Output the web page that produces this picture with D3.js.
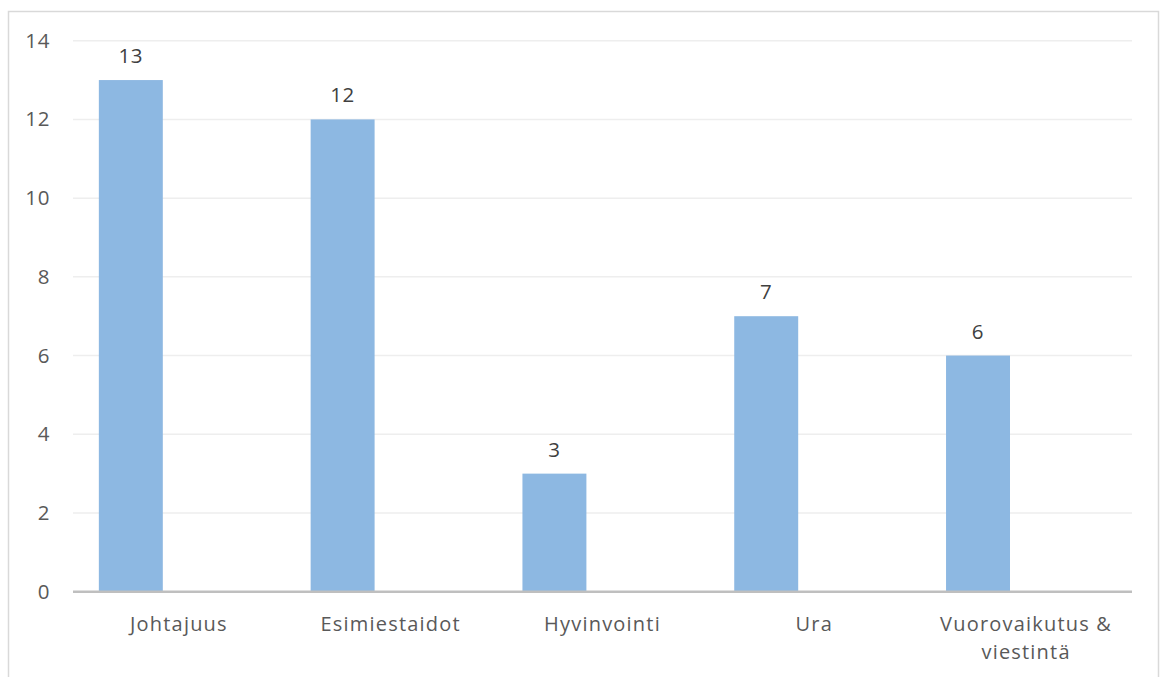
<!DOCTYPE html>
<html>
<head>
<meta charset="utf-8">
<script src="https://cdn.jsdelivr.net/npm/d3@7"></script>
<style>
  html, body { margin: 0; padding: 0; background: #fff; }
  svg { display: block; font-family: "Open Sans", "Noto Sans", sans-serif; }
</style>
</head>
<body>
<svg id="chart" width="1160" height="677"></svg>
<script>
// Topics and counts
const categories = ["Johtajuus", "Esimiestaidot", "Hyvinvointi", "Ura", "Vuorovaikutus & viestintä"];
const values = [13, 12, 3, 7, 6];
const yTicks = [0, 2, 4, 6, 8, 10, 12, 14];

const svg = d3.select("#chart");
const plot = { left: 73, right: 1132, top: 40.7, bottom: 591.7 };

// Outer frame of the chart
svg.append("rect")
  .attr("x", 8.5).attr("y", 11.5)
  .attr("width", 1150).attr("height", 700)
  .attr("fill", "#fff")
  .attr("stroke", "#d9d9d9").attr("stroke-width", 1.5);

const x = d3.scaleBand().domain(categories).range([plot.left, plot.right]).padding(0);
const y = d3.scaleLinear().domain([0, 14]).range([plot.bottom, plot.top]);

// Horizontal gridlines
svg.append("g").selectAll("line")
  .data(yTicks.filter(t => t > 0))
  .join("line")
  .attr("x1", plot.left).attr("x2", plot.right)
  .attr("y1", d => y(d)).attr("y2", d => y(d))
  .attr("stroke", "#eeeeee").attr("stroke-width", 1.5);

// Y axis labels
const yAxis = d3.axisLeft(y).tickValues(yTicks).tickSize(0).tickPadding(0).tickFormat(d3.format("d"));
const yg = svg.append("g").attr("transform", `translate(${plot.left - 23},0)`).call(yAxis);
yg.select(".domain").remove();
yg.selectAll("text")
  .attr("fill", "#595959").attr("font-size", 20.5).style("letter-spacing", "0.6px")
  .attr("font-family", "Open Sans, sans-serif");

// Bars sit in the left part of each category slot
const barOffset = 0.122, barWidth = 0.302;
svg.append("g").selectAll("rect")
  .data(values)
  .join("rect")
  .attr("x", (d, i) => x(categories[i]) + x.bandwidth() * barOffset)
  .attr("width", x.bandwidth() * barWidth)
  .attr("y", d => y(d))
  .attr("height", d => y(0) - y(d))
  .attr("fill", "#8db8e2");

// Value labels above bars
svg.append("g").selectAll("text")
  .data(values)
  .join("text")
  .attr("x", (d, i) => x(categories[i]) + x.bandwidth() * (barOffset + barWidth / 2))
  .attr("y", d => y(d) - 17)
  .attr("text-anchor", "middle")
  .attr("fill", "#404040").attr("font-size", 20.5).style("letter-spacing", "0.6px")
  .text(d => d);

// Baseline axis
svg.append("line")
  .attr("x1", plot.left).attr("x2", plot.right)
  .attr("y1", y(0)).attr("y2", y(0))
  .attr("stroke", "#bfbfbf").attr("stroke-width", 2.5);

// Category labels, wrapped where the label is long
const labelLines = { "Vuorovaikutus & viestintä": ["Vuorovaikutus &", "viestintä"] };
const xl = svg.append("g").selectAll("text")
  .data(categories)
  .join("text")
  .attr("x", d => x(d) + x.bandwidth() / 2)
  .attr("y", 630.7)
  .attr("text-anchor", "middle")
  .attr("fill", "#595959").attr("font-size", 20).style("letter-spacing", "1.2px");
xl.each(function(d) {
  const lines = labelLines[d] || [d];
  const t = d3.select(this);
  lines.forEach((ln, k) => {
    t.append("tspan").attr("x", x(d) + x.bandwidth() / 2).attr("dy", k === 0 ? 0 : 28.5).text(ln);
  });
});
</script>
</body>
</html>
